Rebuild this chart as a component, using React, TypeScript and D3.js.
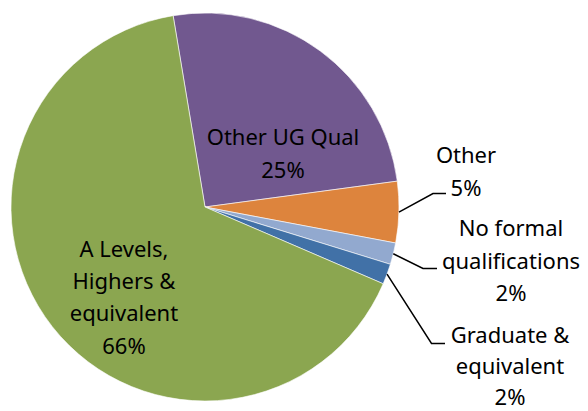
import React from "react";
import * as d3 from "d3";

const categories = ["Other UG Qual", "Other", "No formal qualifications", "Graduate & equivalent", "A Levels, Highers & equivalent"];
const values = [25.5, 5.1, 1.8, 1.7, 65.9];
const percentLabels = ["25%", "5%", "2%", "2%", "66%"];
const colors = ["#71588F", "#DD843D", "#92A9CF", "#4171A7", "#8BA650"];
const labelLines = [
  ["Other UG Qual", "25%"],
  ["Other", "5%"],
  ["No formal", "qualifications", "2%"],
  ["Graduate &", "equivalent", "2%"],
  ["A Levels,", "Highers &", "equivalent", "66%"],
];

const W = 588, H = 411;
const cx = 205, cy = 207, R = 194;
const startDeg = -9.46;

// label layout: text center x, first baseline y, line height, leader elbow (x,y,endX) (null = inside)
const labelLayout = [
  { x: 283, y: 145, lh: 32.5, elbow: null },
  { x: 466, y: 163, lh: 32.5, elbow: [433, 193.5, 446] },
  { x: 511, y: 236, lh: 32.5, elbow: [423, 268.5, 437] },
  { x: 510, y: 343, lh: 31, elbow: [431.5, 343.5, 445] },
  { x: 124, y: 257, lh: 32.2, elbow: null },
];

export default function App() {
  const pie = d3
    .pie<number>()
    .sort(null)
    .value((d) => d)
    .startAngle((startDeg * Math.PI) / 180)
    .endAngle((startDeg * Math.PI) / 180 + 2 * Math.PI);
  const arcs = pie(values);
  const arc = d3.arc<d3.PieArcDatum<number>>().innerRadius(0).outerRadius(R);

  return (
    <svg width={W} height={H} style={{ position: "absolute", left: 0, top: 0, background: "#fff" }}>
      <g transform={`translate(${cx},${cy})`}>
        {arcs.map((a, i) => (
          <path key={categories[i]} d={arc(a) || ""} fill={colors[i]} stroke="#ffffff" strokeWidth={0.6} />
        ))}
      </g>
      {arcs.map((a, i) => {
        const L = labelLayout[i];
        if (!L.elbow) return null;
        const mid = (a.startAngle + a.endAngle) / 2;
        const sx = cx + R * Math.sin(mid);
        const sy = cy - R * Math.cos(mid);
        const [ex, ey, endX] = L.elbow;
        return (
          <polyline
            key={"l" + i}
            points={`${sx},${sy} ${ex},${ey} ${endX},${ey}`}
            fill="none"
            stroke="#000"
            strokeWidth={1.5}
          />
        );
      })}
      {labelLines.map((lines, i) => (
        <text
          key={"t" + i}
          textAnchor="middle"
          fontFamily="'Noto Sans', sans-serif"
          fontSize={22}
          fill="#000"
        >
          {lines.map((ln, j) => (
            <tspan key={j} x={labelLayout[i].x} y={labelLayout[i].y + j * labelLayout[i].lh}>
              {ln}
            </tspan>
          ))}
        </text>
      ))}
    </svg>
  );
}
